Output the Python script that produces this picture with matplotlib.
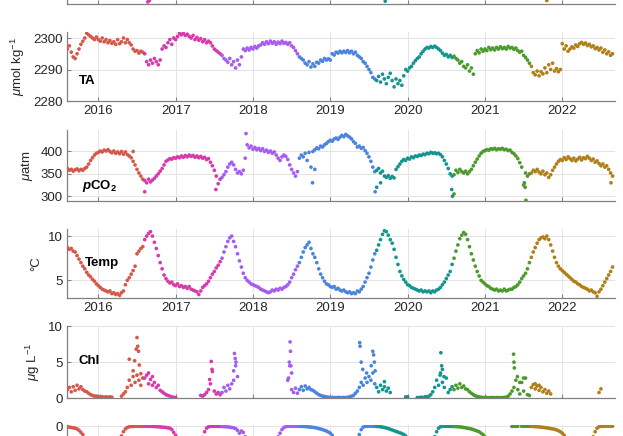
import numpy as np
import matplotlib
matplotlib.use('Agg')
import matplotlib.pyplot as plt

plt.rcParams['font.family'] = ['Liberation Sans', 'DejaVu Sans']
plt.rcParams['mathtext.fontset'] = 'custom'
plt.rcParams['mathtext.rm'] = 'Liberation Sans'
plt.rcParams['mathtext.it'] = 'Liberation Sans:italic'
plt.rcParams['mathtext.bf'] = 'Liberation Sans:bold'
plt.rcParams['mathtext.bfit'] = 'Liberation Sans:italic:bold'

# one sample every 0.025 yr starting 2015.6 (rows of 40 = Aug->Aug)
t0 = 2015.6
dt = 0.025

years = [2016, 2017, 2018, 2019, 2020, 2021, 2022]
year_bounds = [2016.58, 2017.58, 2018.6, 2019.6, 2020.6, 2021.6]
year_colors = ['#d6584a', '#d83aab', '#a65cf0', '#4a84de', '#14968f', '#4d9a2c', '#b07f17']

nan = np.nan

ta = [
    2296.5, 2297.5, 2295.5, 2294.0, 2293.5, 2295.0, 2296.5, 2298.0, 2299.0, 2300.0,
    2301.5, 2301.0, 2300.5, 2300.0, 2299.5, 2300.3, 2299.5, 2299.0, 2300.0, 2298.8,
    2299.5, 2298.5, 2299.2, 2298.3, 2298.8, 2298.0, 2299.5, 2298.2, 2298.8, 2300.0,
    2298.5, 2299.5, 2298.5, 2297.8, 2296.5, 2295.8, 2296.0, 2295.2, 2295.8, 2295.5,
    2295.0, 2292.5, 2291.5, 2293.0, 2292.0, 2293.5, 2292.5, 2291.5, 2293.0, 2296.5,
    2297.5, 2297.0, 2298.5, 2299.5, 2298.0, 2300.0, 2299.5, 2300.5, 2301.5, 2301.0,
    2301.5, 2300.8, 2301.2, 2300.5, 2300.0, 2300.8, 2299.5, 2300.2, 2299.3, 2299.8,
    2298.8, 2299.5, 2298.5, 2299.0, 2298.5, 2297.5, 2296.5, 2296.0, 2295.5, 2295.0,
    2294.5, 2293.5, 2293.0, 2292.3, 2293.5, 2291.5, 2292.5, 2290.5, 2293.0, 2291.5,
    2294.0, 2296.5, 2296.0, 2296.8, 2296.2, 2297.0, 2296.5, 2297.3, 2296.8, 2297.5,
    2297.8, 2298.5, 2298.0, 2298.8, 2298.2, 2299.0, 2298.3, 2298.8, 2298.0, 2298.7,
    2298.2, 2299.0, 2298.3, 2298.6, 2298.0, 2298.5, 2297.5, 2297.0, 2296.0, 2295.0,
    2294.0, 2293.5, 2293.0, 2292.0, 2291.5, 2292.5, 2290.8, 2291.8, 2291.0, 2292.3,
    2292.0, 2293.0, 2292.6, 2293.5, 2293.0, 2293.4, 2293.0, 2295.0, 2294.6, 2295.5,
    2295.2, 2295.8, 2295.3, 2295.8, 2295.4, 2296.0, 2295.3, 2295.8, 2295.0, 2295.5,
    2294.5, 2294.0, 2293.5, 2292.5, 2292.0, 2291.0, 2290.0, 2289.0, 2287.5, 2287.0,
    2286.5, 2287.8, 2286.0, 2288.5, 2287.0, 2285.5, 2287.5, 2288.8, 2286.5, 2284.5,
    2287.0, 2285.5, 2286.5, 2285.0, 2288.0, 2290.0, 2289.5, 2290.5, 2291.0, 2292.0,
    2292.8, 2293.5, 2294.0, 2295.0, 2295.8, 2296.5, 2297.0, 2296.8, 2297.3, 2297.0,
    2297.4, 2297.0, 2296.5, 2296.0, 2295.2, 2294.5, 2294.8, 2294.0, 2294.5, 2293.8,
    2294.2, 2293.5, 2293.0, 2292.0, 2292.5, 2291.0, 2290.5, 2291.5, 2289.5, 2290.5,
    2288.5, 2295.0, 2296.0, 2295.3, 2296.5, 2295.8, 2296.5, 2296.0, 2297.0, 2296.3,
    2296.8, 2296.2, 2297.0, 2296.5, 2297.2, 2296.6, 2297.0, 2296.5, 2297.3, 2296.8,
    2297.0, 2296.4, 2296.8, 2296.0, 2295.5, 2295.8, 2294.5, 2293.8, 2293.0, 2292.0,
    2291.0, 2289.0, 2288.3, 2289.5, 2288.0, 2289.3, 2288.6, 2290.5, 2289.0, 2291.5,
    2290.0, 2292.0, 2289.5, 2290.3, 2289.3, 2290.0, 2298.2, 2296.5, 2297.5, 2295.8,
    2296.5, 2297.2, 2296.8, 2297.8, 2297.3, 2298.2, 2298.6, 2298.0, 2298.4, 2297.6,
    2298.0, 2297.2, 2297.5, 2296.6, 2297.0, 2296.2, 2296.8, 2295.5, 2296.2, 2295.0,
    2295.6, 2294.5, 2295.0,
]

pco2 = [
    362, 358, 360, 356, 359, 361, 357, 360, 358, 362,
    365, 372, 380, 386, 392, 396, 398, 401, 399, 403,
    401, 404, 400, 397, 401, 396, 399, 395, 400, 394,
    399, 393, 390, 386, 378, 370, 360, 352, 345, 338,
    335, 330, 338, 332, 336, 340, 345, 350, 356, 362,
    370, 378, 381, 384, 383, 386, 385, 388, 386, 390,
    387, 391, 388, 392, 389, 391, 387, 390, 386, 389,
    385, 387, 382, 384, 376, 368, 358, 345, 328, 338,
    342, 348, 355, 365, 372, 376, 370, 360, 352, 355,
    350, 358, 385, 415, 408, 412, 405, 409, 404, 407,
    402, 406, 400, 403, 398, 401, 396, 399, 392, 385,
    380, 388, 392, 389, 382, 370, 360, 352, 345, 355,
    385, 392, 388, 396, 380, 398, 365, 400, 404, 408,
    406, 412, 410, 415, 418, 422, 425, 423, 428, 430,
    427, 432, 436, 433, 438, 435, 432, 428, 422, 418,
    410, 412, 407, 409, 402, 396, 388, 378, 365, 355,
    358, 362, 352, 356, 345, 342, 346, 340, 344, 341,
    360, 366, 372, 378, 382, 380, 385, 383, 388, 386,
    390, 389, 392, 391, 394, 393, 396, 395, 398, 396,
    397, 395, 396, 393, 388, 380, 372, 362, 350, 345,
    348, 358, 353, 360, 355, 352, 356, 350, 355, 360,
    368, 376, 383, 390, 396, 400, 402, 404, 403, 406,
    405, 407, 404, 406, 405, 407, 404, 405, 402, 403,
    398, 395, 390, 384, 375, 365, 325, 352, 345, 350,
    352, 358, 355, 360, 354, 350, 356, 348, 352, 342,
    348, 358, 365, 372, 378, 382, 380, 386, 382, 388,
    384, 380, 385, 379, 383, 387, 381, 386, 384, 389,
    385, 380, 383, 376, 379, 373, 368, 372, 365, 368,
    360, 352, 345,
]
# scattered pCO2 outliers
pco2_out_t = [2016.45, 2016.60, 2017.52, 2017.91, 2018.77, 2018.80, 2019.58, 2019.60,
              2019.65, 2020.57, 2020.58, 2020.60, 2021.51, 2021.52, 2021.53, 2022.63]
pco2_out_v = [400, 310, 315, 440, 330, 360, 310, 320, 330, 315, 300, 305, 330, 320, 291, 330]

temp = [
    8.7, 8.5, 8.6, 8.3, 8.2, 7.8, 7.4, 7.0, 6.6, 6.3,
    5.9, 5.6, 5.4, 5.1, 4.9, 4.6, 4.4, 4.2, 4.0, 3.9,
    3.8, 3.7, 3.8, 3.5, 3.6, 3.4, 3.5, 3.3, 3.6, 3.8,
    4.5, 5.0, 5.3, 5.7, 6.1, 6.6, 8.0, 8.3, 8.6, 8.8,
    9.6, 10.0, 10.3, 10.5, 10.0, 9.3, 8.6, 7.8, 7.0, 6.3,
    5.6, 5.2, 4.9, 4.7, 4.8, 4.5, 4.4, 4.6, 4.3, 4.4,
    4.2, 4.3, 4.1, 4.3, 4.0, 3.9, 3.8, 3.7, 3.4, 3.8,
    4.2, 4.4, 4.6, 4.9, 5.3, 5.7, 6.0, 6.4, 6.7, 7.1,
    7.5, 8.2, 8.8, 9.4, 9.8, 10.0, 9.4, 8.8, 8.0, 7.2,
    6.5, 5.8, 5.3, 5.0, 4.8, 4.6, 4.5, 4.4, 4.3, 4.2,
    4.0, 3.9, 3.8, 3.7, 3.6, 3.7, 3.9, 3.8, 4.0, 3.9,
    4.1, 4.0, 4.2, 4.3, 4.5, 4.8, 5.3, 5.7, 6.2, 6.6,
    7.0, 7.6, 8.2, 8.7, 9.0, 9.3, 8.6, 8.0, 7.6, 7.0,
    6.3, 5.7, 5.3, 4.9, 4.6, 4.5, 4.3, 4.2, 4.3, 4.0,
    4.1, 3.9, 3.8, 3.9, 3.7, 3.6, 3.7, 3.5, 3.6, 3.5,
    3.8, 3.7, 4.0, 4.3, 4.8, 5.3, 5.8, 6.5, 7.3, 8.0,
    8.4, 9.0, 9.6, 10.2, 10.6, 10.5, 10.1, 9.6, 9.2, 8.5,
    7.6, 6.8, 6.0, 5.5, 5.1, 4.8, 4.5, 4.4, 4.2, 4.1,
    4.0, 3.9, 3.8, 3.9, 3.7, 3.8, 3.7, 3.8, 3.6, 3.8,
    3.7, 3.9, 4.0, 4.2, 4.5, 4.8, 5.2, 5.6, 6.0, 6.8,
    7.5, 8.3, 9.0, 9.7, 10.1, 10.4, 10.2, 9.6, 8.8, 8.0,
    7.3, 6.6, 6.0, 5.5, 5.0, 4.8, 4.6, 4.4, 4.3, 4.1,
    4.0, 3.9, 4.0, 3.8, 3.9, 3.8, 4.0, 3.8, 3.9, 4.0,
    4.0, 4.2, 4.3, 4.5, 4.8, 5.2, 5.5, 5.8, 6.3, 7.0,
    7.6, 8.2, 8.7, 9.2, 9.6, 9.8, 9.9, 9.7, 10.0, 9.6,
    9.0, 8.3, 7.6, 7.0, 6.6, 6.3, 6.1, 5.9, 5.7, 5.5,
    5.3, 5.1, 4.9, 4.8, 4.6, 4.5, 4.3, 4.2, 4.1, 4.0,
    3.8, 3.9, 3.7, 3.6, 3.2, 3.7, 4.0, 4.4, 4.8, 5.2,
    5.6, 6.0, 6.5,
]

chl = [
    1.2, 1.5, 0.9, 1.6, 1.1, 1.8, 1.3, 1.6, 1.2, 1.0,
    0.9, 0.7, 0.5, 0.4, 0.3, 0.3, 0.2, 0.25, 0.2, 0.15,
    0.2, 0.15, 0.2, 0.15, nan, nan, nan, nan, 0.3, 0.6,
    0.9, 1.5, 2.5, 1.8, 3.0, 2.2, 3.2, 2.5, 1.8, 2.8,
    2.8, 3.2, 2.0, 2.6, 1.8, 2.2, 1.5, 1.8, 1.1, 0.9,
    0.7, 0.5, 0.4, 0.3, 0.2, 0.15, 0.1, nan, nan, nan,
    nan, nan, nan, nan, nan, nan, nan, nan, nan, 0.4,
    0.3, 0.5, 0.8, 1.2, 2.0, 3.7, 1.0, 0.6, 0.8, 0.5,
    0.8, 1.5, 1.0, 1.8, 1.3, 2.0, 2.5, 4.5, 3.0, nan,
    nan, nan, nan, nan, nan, nan, nan, nan, nan, nan,
    nan, nan, nan, nan, nan, nan, nan, nan, nan, nan,
    nan, nan, nan, nan, 2.5, 4.5, 1.2, 0.8, 1.4, 0.7,
    1.2, 1.6, 1.1, 1.7, 1.3, 1.5, 1.2, 1.1, 0.9, 0.7,
    0.5, 0.4, 0.3, 0.25, 0.2, 0.15, 0.1, 0.12, 0.1, 0.1,
    0.12, 0.1, 0.1, 0.12, 0.1, 0.15, 0.2, 0.3, 0.4, 0.7,
    1.0, 1.5, 2.2, 1.8, 2.8, 2.2, 3.0, 2.5, 3.5, 2.0,
    1.5, 0.9, 1.8, 1.2, 1.6, 1.0, 1.4, 0.8, nan, nan,
    nan, nan, nan, nan, nan, 0.2, 0.2, nan, nan, nan,
    nan, 0.1, 0.1, 0.15, 0.1, 0.2, 0.2, 0.3, 0.5, 0.9,
    1.5, 2.5, 1.8, 3.5, 2.2, 1.5, 2.8, 0.8, 1.2, 1.6,
    1.2, 1.8, 1.4, 2.0, 1.5, 1.7, 1.3, 1.2, 0.9, 0.7,
    0.5, 0.35, 0.25, 0.2, 0.15, 0.1, 0.1, 0.1, 0.08, 0.1,
    0.1, 0.08, 0.1, 0.1, 0.08, 0.1, 0.12, 0.15, 0.3, 0.6,
    1.0, 1.5, 2.5, 1.2, 0.6, 2.2, 1.0, 2.8, 0.5, 0.4,
    1.5, 1.9, 1.3, 1.7, 1.1, 1.5, 0.9, 1.2, 0.7, 1.0,
    0.6, nan, nan, nan, nan, nan, nan, nan, nan, nan,
    nan, nan, nan, nan, nan, nan, nan, nan, nan, nan,
    nan, nan, nan, nan, nan, 0.8, 1.3, nan, nan, nan,
    nan, nan, nan,
]
# bloom spikes in Chl
chl_out_t = [2016.40, 2016.45, 2016.47, 2016.49, 2016.50, 2016.51, 2016.52, 2016.53, 2016.55,
             2016.65, 2016.70, 2017.44, 2017.46, 2017.47, 2017.75, 2017.76, 2017.77, 2017.78,
             2018.46, 2018.47, 2018.48, 2018.485, 2018.49, 2018.50,
             2019.38, 2019.385, 2019.40, 2019.42, 2019.47, 2019.53, 2019.55, 2019.56, 2019.57, 2019.58,
             2019.70, 2020.42, 2020.43, 2020.44, 2020.45, 2020.47,
             2021.37, 2021.375, 2021.38, 2021.42, 2021.45, 2021.50, 2021.65, 2021.70]
chl_out_v = [5.4, 3.8, 5.2, 6.8, 8.4, 7.2, 6.5, 4.6, 3.4,
             3.5, 3.0, 2.6, 5.1, 4.0, 3.8, 6.2, 5.5, 5.0,
             2.8, 5.0, 7.8, 6.5, 4.5, 3.5,
             7.7, 7.2, 5.0, 4.0, 3.5, 4.5, 6.5, 6.0, 5.0, 3.8,
             2.3, 3.2, 6.3, 4.5, 4.0, 3.0,
             6.1, 5.0, 4.2, 3.0, 2.2, 2.8, 2.0, 1.8]

bottom = [
    -0.1, -0.15, -0.2, -0.25, -0.3, -0.4, -0.6, -0.9, -1.2, -1.8,
    -2.5, -3.2, -4.0, -4.8, -5.5, -6.0, -6.5, -7.0, -7.2, -7.5,
    -7.6, -7.8, -7.5, -7.0, -6.0, -5.0, -3.5, -2.0, -1.4, -0.8,
    -0.4, -0.2, -0.1, -0.05, -0.05, -0.02, -0.03, -0.02, -0.05, -0.03,
    -0.02, -0.03, -0.02, -0.04, -0.05, -0.06, -0.08, -0.1, -0.12, -0.15,
    -0.18, -0.2, -0.25, -0.3, -0.5, -0.9, -1.3, -2.0, -3.0, -4.0,
    -5.0, -6.0, -6.5, -7.0, -7.0, -6.5, -5.5, -4.5, -3.5, -2.5,
    -1.6, -0.8, -0.3, -0.1, -0.05, -0.03, -0.02, -0.03, -0.05, -0.04,
    -0.06, -0.08, -0.1, -0.12, -0.15, -0.2, -0.25, -0.35, -0.6, -1.0,
    -0.7, -0.9, -1.5, -2.5, -3.5, -4.5, -5.5, -6.2, -6.8, -7.2,
    -7.5, -7.5, -7.2, -6.8, -6.0, -5.0, -4.0, -3.0, -2.0, -1.5,
    -1.0, -0.5, -0.2, -0.08, -0.03, -0.02, -0.02, -0.03, -0.02, -0.03,
    -0.03, -0.04, -0.05, -0.07, -0.1, -0.12, -0.15, -0.18, -0.22, -0.28,
    -0.35, -0.42, -0.5, -0.6, -0.7, -0.85, -1.0, -1.3, -1.8, -2.5,
    -3.5, -4.5, -5.5, -6.2, -6.8, -7.0, -6.8, -6.0, -4.5, -3.0,
    -2.0, -1.2, -0.5, -0.15, -0.05, -0.03, -0.02, -0.02, -0.03, -0.04,
    -0.05, -0.07, -0.1, -0.15, -0.2, -0.28, -0.35, -0.45, -0.55, -0.65,
    -0.75, -0.85, -0.95, -1.05, -1.2, -1.4, -1.7, -2.2, -3.0, -4.0,
    -5.0, -6.0, -6.5, -7.0, -7.0, -6.5, -5.5, -4.0, -3.0, -2.2,
    -1.5, -0.8, -0.3, -0.1, -0.04, -0.02, -0.02, -0.03, -0.04, -0.05,
    -0.06, -0.08, -0.1, -0.12, -0.15, -0.2, -0.25, -0.3, -0.35, -0.42,
    -0.5, -0.6, -0.7, -0.8, -1.0, -1.2, -1.5, -2.0, -3.0, -4.0,
    -5.0, -6.0, -6.5, -7.0, -7.0, -6.5, -5.5, -4.5, -3.5, -2.5,
    -0.05, -0.03, -0.04, -0.03, -2.0, -0.03, -0.02, -0.03, -0.02, -0.03,
    -0.04, -0.06, -0.08, -0.1, -0.12, -0.15, -0.18, -0.22, -0.25, -0.3,
    -0.35, -0.4, -0.45, -0.55, -0.65, -0.8, -1.0, -1.3, -1.8, -2.5,
    -3.5, -4.5, -5.5, -6.0, -6.5, -6.8, -6.5, -6.0, -5.0, -4.0,
    -3.0, -2.2, -1.5, -0.8, -0.3, -0.1, -0.04, -0.02, -0.02, -0.01,
    -0.02, -0.01, -0.02,
]

# panel above TA, only its lowest dips show
top_t = [2016.60, 2016.62, 2016.64, 2016.66, 2016.68, 2019.69, 2019.71, 2019.73, 2021.80]
top_v = [2.0, 0.9, 0.3, 0.5, 1.5, 1.2, 0.4, 0.8, 0.5]


def colors_for(t):
    idx = np.digitize(t, year_bounds)
    return [year_colors[i] for i in idx]


def dots(ax, t, v):
    t = np.asarray(t, float)
    v = np.asarray(v, float)
    ax.scatter(t, v, s=7, c=colors_for(t), marker='o', linewidths=0, zorder=3)


def style(ax, ylim, yticks, xlabels, ylabels=True):
    ax.set_xlim(2015.591, 2022.678)
    ax.set_ylim(*ylim)
    ax.set_yticks(yticks)
    ax.set_xticks(years)
    if xlabels:
        ax.set_xticklabels([str(y) for y in years])
    else:
        ax.set_xticklabels([])
    ax.grid(True, color='#e4e4e4', lw=0.7)
    ax.set_axisbelow(True)
    for s in ['top', 'right']:
        ax.spines[s].set_visible(False)
    for s in ['left', 'bottom']:
        ax.spines[s].set_color('#808080')
        ax.spines[s].set_linewidth(0.9)
    ax.tick_params(direction='in', length=3, color='#808080', labelsize=9.5,
                   labelcolor='#262626', pad=3, labelleft=ylabels)


W, H = 623, 436
fig = plt.figure(figsize=(W / 100, H / 100), dpi=100)


def axes_px(top, bottom):
    return fig.add_axes([66.7 / W, 1 - bottom / H, 548 / W, (bottom - top) / H])


ax0 = axes_px(-66, 4)
dots(ax0, top_t, top_v)
style(ax0, (0, 10), [5, 10], False, ylabels=False)

ax1 = axes_px(31.7, 101)
dots(ax1, t0 + dt * np.arange(len(ta)), ta)
style(ax1, (2280, 2302), [2280, 2290, 2300], True)
ax1.set_ylabel(r'$\mu$mol kg$^{-1}$', fontsize=9.5, color='#262626')
ax1.text(2015.75, 2286.2, 'TA', fontsize=9.5, fontweight='bold', va='center')

ax2 = axes_px(130, 200.7)
dots(ax2, t0 + dt * np.arange(len(pco2)), pco2)
dots(ax2, pco2_out_t, pco2_out_v)
style(ax2, (290, 448), [300, 350, 400], False)
ax2.set_ylabel(r'$\mu$atm', fontsize=9.5, color='#262626')
ax2.text(2015.79, 322, r'$\mathbfit{p}\mathbf{CO_2}$', fontsize=9.5, va='center')

ax3 = axes_px(229, 298.3)
dots(ax3, t0 + dt * np.arange(len(temp)), temp)
style(ax3, (2.97, 10.8), [5, 10], True)
ax3.set_ylabel('°C', fontsize=9.5, color='#262626')
ax3.text(2015.83, 6.95, 'Temp', fontsize=9.5, fontweight='bold', va='center')

ax4 = axes_px(326, 398.3)
dots(ax4, t0 + dt * np.arange(len(chl)), chl)
dots(ax4, chl_out_t, chl_out_v)
style(ax4, (0, 10), [0, 5, 10], False)
ax4.set_ylabel(r'$\mu$g L$^{-1}$', fontsize=9.5, color='#262626')
ax4.text(2015.75, 5.1, 'Chl', fontsize=9.5, fontweight='bold', va='center')

ax5 = axes_px(425, 497)
dots(ax5, t0 + dt * np.arange(len(bottom)), bottom)
style(ax5, (-10, 0.15), [0], False)

fig.savefig('out.png', dpi=100)
